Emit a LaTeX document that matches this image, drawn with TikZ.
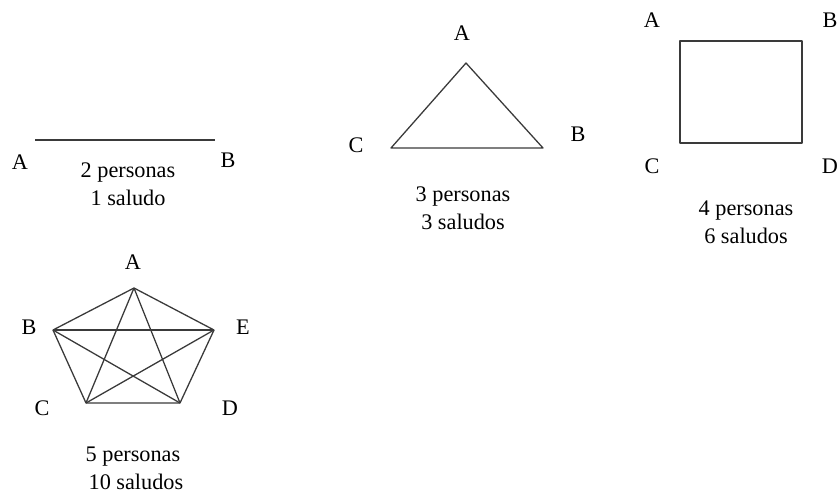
\documentclass[tikz,border=0pt]{standalone}
\usepackage{fontspec}
\setmainfont{Liberation Serif}
\usetikzlibrary{positioning}
\definecolor{coloredge}{HTML}{3A3A3A}

\begin{document}
\begin{tikzpicture}[
    % one unit = one pixel of the page
    x=0.03cm, y=-0.03cm,
    letter/.style={
        inner sep=0pt,
        font=\fontsize{19}{22}\selectfont
    },
    caption/.style={
        align=center,
        inner sep=0pt,
        font=\fontsize{19}{24}\selectfont
    },
    edge/.style={
        draw=coloredge,
        line width=1.1pt,
        line join=round
    }
]
\useasboundingbox (0,0) rectangle (840,497);

% ==============================
% 2 persons: a segment
% ==============================
\coordinate (twoA) at (35,140);
\coordinate (twoB) at (215,140);
\node[letter] (labtwoA) at (20,162) {A};
\node[letter] (labtwoB) at (228,160) {B};
\node[caption] (captwo) at (128,184) {2 personas \\ 1 saludo};

\draw[edge] (twoA) -- (twoB);

% ==============================
% 3 persons: a triangle
% ==============================
\coordinate (triA) at (466,63);
\coordinate (triC) at (391,148);
\coordinate (triB) at (543,148);
\node[letter] (labtriA) at (462,33) {A};
\node[letter] (labtriC) at (356,145) {C};
\node[letter] (labtriB) at (578,134) {B};
\node[caption] (captri) at (463,208) {3 personas \\ 3 saludos};

\draw[edge] (triA) -- (triB) -- (triC) -- cycle;

% ==============================
% 4 persons: a square
% ==============================
\coordinate (sqA) at (680,41);
\coordinate (sqB) at (802,41);
\coordinate (sqD) at (802,143);
\coordinate (sqC) at (680,143);
\node[letter] (labsqA) at (652,20) {A};
\node[letter] (labsqB) at (830,20) {B};
\node[letter] (labsqC) at (652,166) {C};
\node[letter] (labsqD) at (830,166) {D};
\node[caption] (capsq) at (746,222) {4 personas \\ 6 saludos};

\draw[edge] (sqA) -- (sqB) -- (sqD) -- (sqC) -- cycle;

% ==============================
% 5 persons: a pentagon with its diagonals
% ==============================
\coordinate (penA) at (134,288);
\coordinate (penB) at (53,330);
\coordinate (penE) at (214,330);
\coordinate (penC) at (86,403);
\coordinate (penD) at (180,403);
\node[letter] (labpenA) at (133,262) {A};
\node[letter] (labpenB) at (29,327) {B};
\node[letter] (labpenE) at (243,327) {E};
\node[letter] (labpenC) at (42,408) {C};
\node[letter] (labpenD) at (230,408) {D};
\node[caption] (cappen) at (133,468) {5 personas \\ \hspace*{5pt}10 saludos};

\draw[edge] (penA) -- (penE) -- (penD) -- (penC) -- (penB) -- cycle;
\draw[edge] (penA) -- (penC);
\draw[edge] (penA) -- (penD);
\draw[edge] (penB) -- (penE);
\draw[edge] (penB) -- (penD);
\draw[edge] (penC) -- (penE);

\end{tikzpicture}
\end{document}
